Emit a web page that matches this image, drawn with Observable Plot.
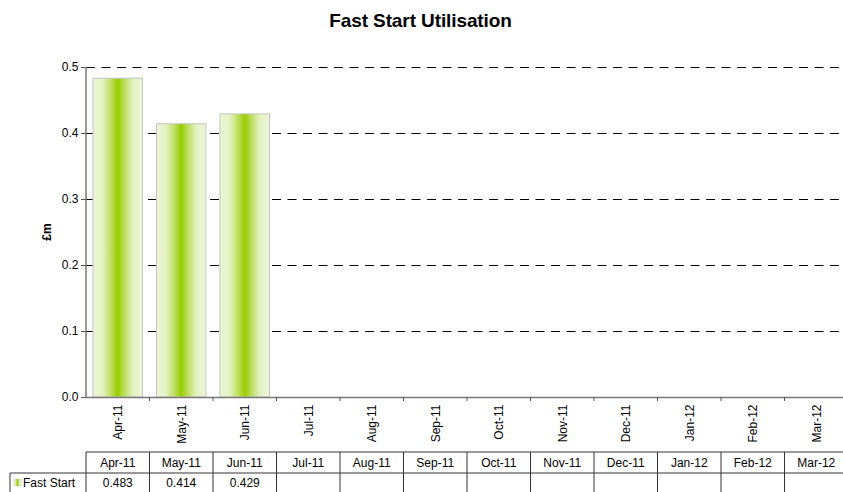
<!DOCTYPE html>
<html>
<head>
<meta charset="utf-8">
<script src="https://cdn.jsdelivr.net/npm/d3@7"></script>
<script src="https://cdn.jsdelivr.net/npm/@observablehq/plot@0.6"></script>
<style>
  body { margin: 0; background: #fff; font-family: "Liberation Sans", Arial, sans-serif; }
  #title { height: 40px; line-height: 42px; text-align: center; font-weight: bold; font-size: 19px; color: #000; width: 843px; box-sizing: border-box; letter-spacing: -0.1px; padding-right: 2px; }
</style>
</head>
<body>
<div id="title">Fast Start Utilisation</div>
<div id="chart"></div>
<script>
const months = ["Apr-11","May-11","Jun-11","Jul-11","Aug-11","Sep-11","Oct-11","Nov-11","Dec-11","Jan-12","Feb-12","Mar-12"];
const fastStart = [0.483, 0.414, 0.429, null, null, null, null, null, null, null, null, null];
const yTicks = [0, 0.1, 0.2, 0.3, 0.4, 0.5];
const seriesName = "Fast Start";
const yLabel = "£m";

const data = months.map((m, i) => ({month: m, value: fastStart[i]}));

function gradientDefs() {
  const ns = "http://www.w3.org/2000/svg";
  const defs = document.createElementNS(ns, "defs");
  defs.innerHTML = `<linearGradient id="barGrad" x1="0" x2="1" y1="0" y2="0">
    <stop offset="0" stop-color="#eef6d8"/>
    <stop offset="0.2" stop-color="#e3f1c0"/>
    <stop offset="0.36" stop-color="#bedf62"/>
    <stop offset="0.5" stop-color="#99cc00"/>
    <stop offset="0.64" stop-color="#bedf62"/>
    <stop offset="0.8" stop-color="#e3f1c0"/>
    <stop offset="1" stop-color="#eef6d8"/>
  </linearGradient>`;
  return defs;
}

const W = 843, H = 452;
const FS = 12;
const plot = Plot.plot({
  width: W,
  height: H,
  marginTop: 27,
  marginBottom: 95,
  marginLeft: 86,
  marginRight: 0,
  style: {fontFamily: "'Liberation Sans', Arial, sans-serif", fontSize: FS + "px", color: "#000", background: "#fff", overflow: "visible"},
  x: {domain: months, range: [86, 848], paddingInner: 0.22, paddingOuter: 0.11, align: 0.5, round: false, label: null},
  y: {domain: [0, 0.5], label: null},
  marks: [
    gradientDefs,
    Plot.ruleY(yTicks.filter(d => d > 0), {stroke: "#000", strokeWidth: 1, strokeDasharray: "9,6.5"}),
    Plot.barY(data.filter(d => d.value != null), {x: "month", y: "value", fill: "url(#barGrad)", stroke: "#c4c4c4", strokeWidth: 1}),
    Plot.axisY({ticks: yTicks, tickFormat: d3.format(".1f"), tickSize: 5, tickPadding: 3, stroke: "#555", label: null}),
    Plot.axisX({tickRotate: -90, tickSize: 0, tickPadding: 7, label: null}),
    Plot.ruleY([0], {stroke: "#777", strokeWidth: 1.5})
  ]
});

document.getElementById("chart").appendChild(plot);

// Post-render: axis line, boundary ticks, y label, data table using Plot's scales
const xs = plot.scale("x");
const ys = plot.scale("y");
const step = xs.step, bw = xs.bandwidth;
const left = m => xs.apply(m) - (step - bw) / 2;
const svg = d3.select(plot);
const y0 = ys.apply(0), yTop = ys.apply(0.5);
const x0 = left(months[0]);

// vertical axis line
svg.append("line").attr("x1", x0).attr("x2", x0).attr("y1", yTop).attr("y2", y0)
  .attr("stroke", "#777").attr("stroke-width", 1.5);
// x boundary ticks
months.forEach(m => {
  const xb = left(m) + step;
  svg.append("line").attr("x1", xb).attr("x2", xb).attr("y1", y0).attr("y2", y0 + 4)
    .attr("stroke", "#555").attr("stroke-width", 1);
});
// y label
svg.append("text").attr("transform", `translate(47,${(y0 + yTop) / 2}) rotate(-90)`)
  .attr("text-anchor", "middle").attr("dy", "0.35em")
  .attr("font-weight", "bold").attr("font-size", FS).text(yLabel);

// table
const tTop = 412, tMid = 433, tBot = 460;
const g = svg.append("g").attr("stroke", "#333").attr("stroke-width", 1);
const xEnd = left(months[months.length - 1]) + step;
g.append("line").attr("x1", x0).attr("x2", xEnd).attr("y1", tTop).attr("y2", tTop);
g.append("line").attr("x1", 10).attr("x2", xEnd).attr("y1", tMid).attr("y2", tMid);
g.append("line").attr("x1", 10).attr("x2", 10).attr("y1", tMid).attr("y2", tBot);
g.append("line").attr("x1", x0).attr("x2", x0).attr("y1", tTop).attr("y2", tBot);
months.forEach(m => {
  const xb = left(m) + step;
  g.append("line").attr("x1", xb).attr("x2", xb).attr("y1", tTop).attr("y2", tBot);
});
const tt = svg.append("g").attr("font-size", FS).attr("fill", "#000").attr("text-anchor", "middle");
months.forEach((m, i) => {
  tt.append("text").attr("x", xs.apply(m) + bw / 2).attr("y", (tTop + tMid) / 2).attr("dy", "0.35em").text(m);
  if (fastStart[i] != null)
    tt.append("text").attr("x", xs.apply(m) + bw / 2).attr("y", (tMid + 452) / 2).attr("dy", "0.35em").text(d3.format(".3f")(fastStart[i]));
});
// legend swatch + series name
svg.append("rect").attr("x", 14).attr("y", 439).attr("width", 7).attr("height", 7)
  .attr("fill", "url(#barGrad)").attr("stroke", "#c4c4c4").attr("stroke-width", 0.5);
svg.append("text").attr("x", 23).attr("y", 442.5).attr("dy", "0.35em").attr("font-size", FS)
  .attr("text-anchor", "start").text(seriesName);
</script>
</body>
</html>
